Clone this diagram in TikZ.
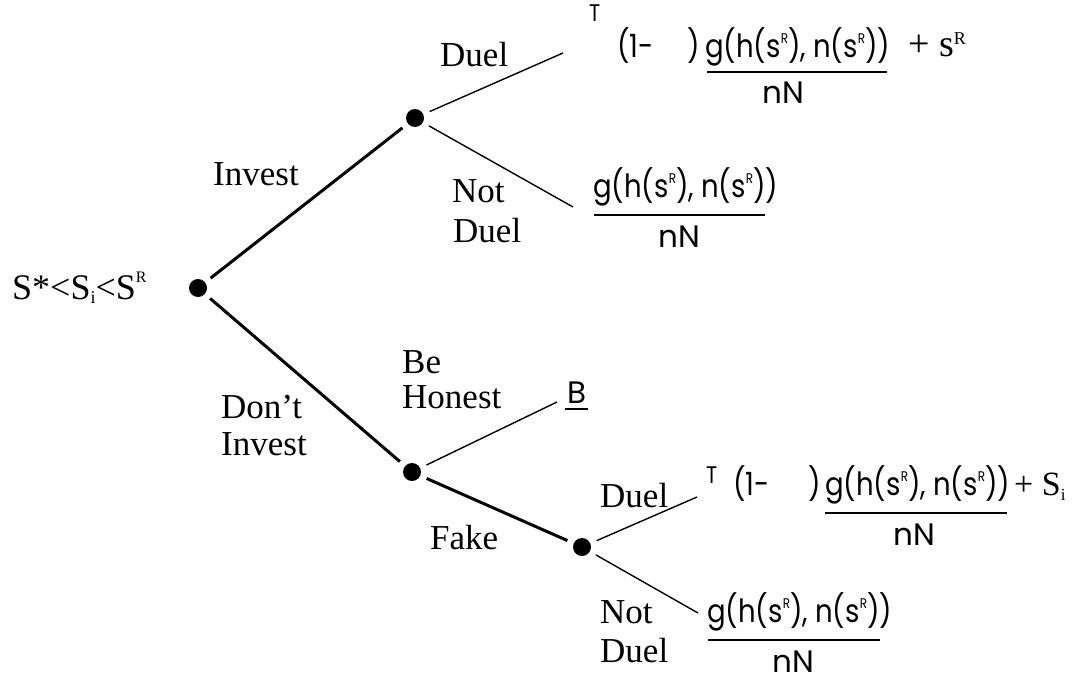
\documentclass[tikz,border=0pt]{standalone}
\usepackage{fontspec}
\setmainfont{Liberation Serif}
\newfontfamily\gothic[FakeStretch=0.86]{Poppins}
\newfontfamily\gothicw{Poppins}
\newcommand\rsup{\raisebox{14pt}{\fontsize{14}{14}\selectfont R}}
\begin{document}
\begin{tikzpicture}[x=1pt,y=-1pt,
  lab/.style={font=\fontsize{35}{35}\selectfont, inner sep=0, anchor=base west},
  frm/.style={font=\gothic\fontsize{32}{32}\selectfont, inner sep=0, anchor=base west},
  den/.style={font=\gothicw\fontsize{31}{31}\selectfont, inner sep=0, anchor=base west},
  sup/.style={font=\gothic\fontsize{24}{24}\selectfont, inner sep=0, anchor=base west},
  dot/.style={circle, fill=black, minimum size=18pt, inner sep=0, outer sep=7pt},
  bigedge/.style={line width=3pt},
  smalledge/.style={line width=1.4pt},
  barline/.style={line width=1.6pt}]
\useasboundingbox (0,0) rectangle (1075,682);
% decision dots
\node[dot] (root) at (198,288) {};
\node[dot] (inv) at (415,118) {};
\node[dot] (dinv) at (412,472) {};
\node[dot] (fake) at (582,547) {};
% free ends
\coordinate (duelA) at (563,53);
\coordinate (ndA) at (573,207);
\coordinate (hon) at (557,402);
\coordinate (duelB) at (697,497);
\coordinate (ndB) at (698,613);
% edges
\draw[bigedge] (root) -- (inv);
\draw[bigedge] (root) -- (dinv);
\draw[bigedge] (dinv) -- (fake);
\draw[smalledge] (inv) -- (duelA);
\draw[smalledge] (inv) -- (ndA);
\draw[smalledge] (dinv) -- (hon);
\draw[smalledge] (fake) -- (duelB);
\draw[smalledge] (fake) -- (ndB);
% labels
\node[lab, font=\fontsize{36}{36}\selectfont] (state) at (12,299) {S*<S\raisebox{-4pt}{\fontsize{18}{18}\selectfont i}<S\raisebox{17pt}{\fontsize{16}{16}\selectfont R}};
\node[lab] (linv) at (213,185) {Invest};
\node[lab] (lduelA) at (440,67) {Duel};
\node[lab] (lnotA) at (452,202) {Not};
\node[lab] (lnotA2) at (453,242) {Duel};
\node[lab] (ldont) at (221,418) {Don't};
\node[lab] (ldont2) at (221,455) {Invest};
\node[lab] (lbe) at (402,373) {Be};
\node[lab] (lbe2) at (402,408) {Honest};
\node[lab] (lfake) at (430,549) {Fake};
\node[lab] (lduelB) at (600,507) {Duel};
\node[lab] (lnotB) at (600,623) {Not};
\node[lab] (lnotB2) at (600,662) {Duel};
% payoff: invest, duel
\node[sup] (tA) at (589,22) {T};
\node[frm] (oneA) at (617,58) {(1-};
\node[frm] (clA) at (687,58) {)};
\node[frm] (numA) at (705,58) {g(h(s\rsup), n(s\rsup))};
\draw[barline] (707,72) -- (887,72);
\node[den] (denA) at (762,103) {nN};
\node[lab, font=\fontsize{38}{38}\selectfont] (plusA) at (908,57) {+ s\raisebox{12pt}{\fontsize{18}{18}\selectfont R}};
% payoff: invest, not duel
\node[frm] (numB) at (593,197) {g(h(s\rsup), n(s\rsup))};
\draw[barline] (594,215) -- (765,215);
\node[den] (denB) at (658,247) {nN};
% payoff: honest
\node[den] (pB) at (567,403) {B};
\draw[barline] (565,409) -- (588,409);
% payoff: fake, duel
\node[sup] (tC) at (706,483) {T};
\node[frm] (oneC) at (733,495) {(1-};
\node[frm] (clC) at (808,495) {)};
\node[frm] (numC) at (825,495) {g(h(s\rsup), n(s\rsup))};
\draw[barline] (825,513) -- (1007,513);
\node[den] (denC) at (893,545) {nN};
\node[lab, font=\fontsize{34}{34}\selectfont] (plusC) at (1014,495) {+ S\raisebox{-5pt}{\fontsize{17}{17}\selectfont i}};
% payoff: fake, not duel
\node[frm] (numD) at (707,622) {g(h(s\rsup), n(s\rsup))};
\draw[barline] (708,640) -- (880,640);
\node[den] (denD) at (772,672) {nN};
\end{tikzpicture}
\end{document}
